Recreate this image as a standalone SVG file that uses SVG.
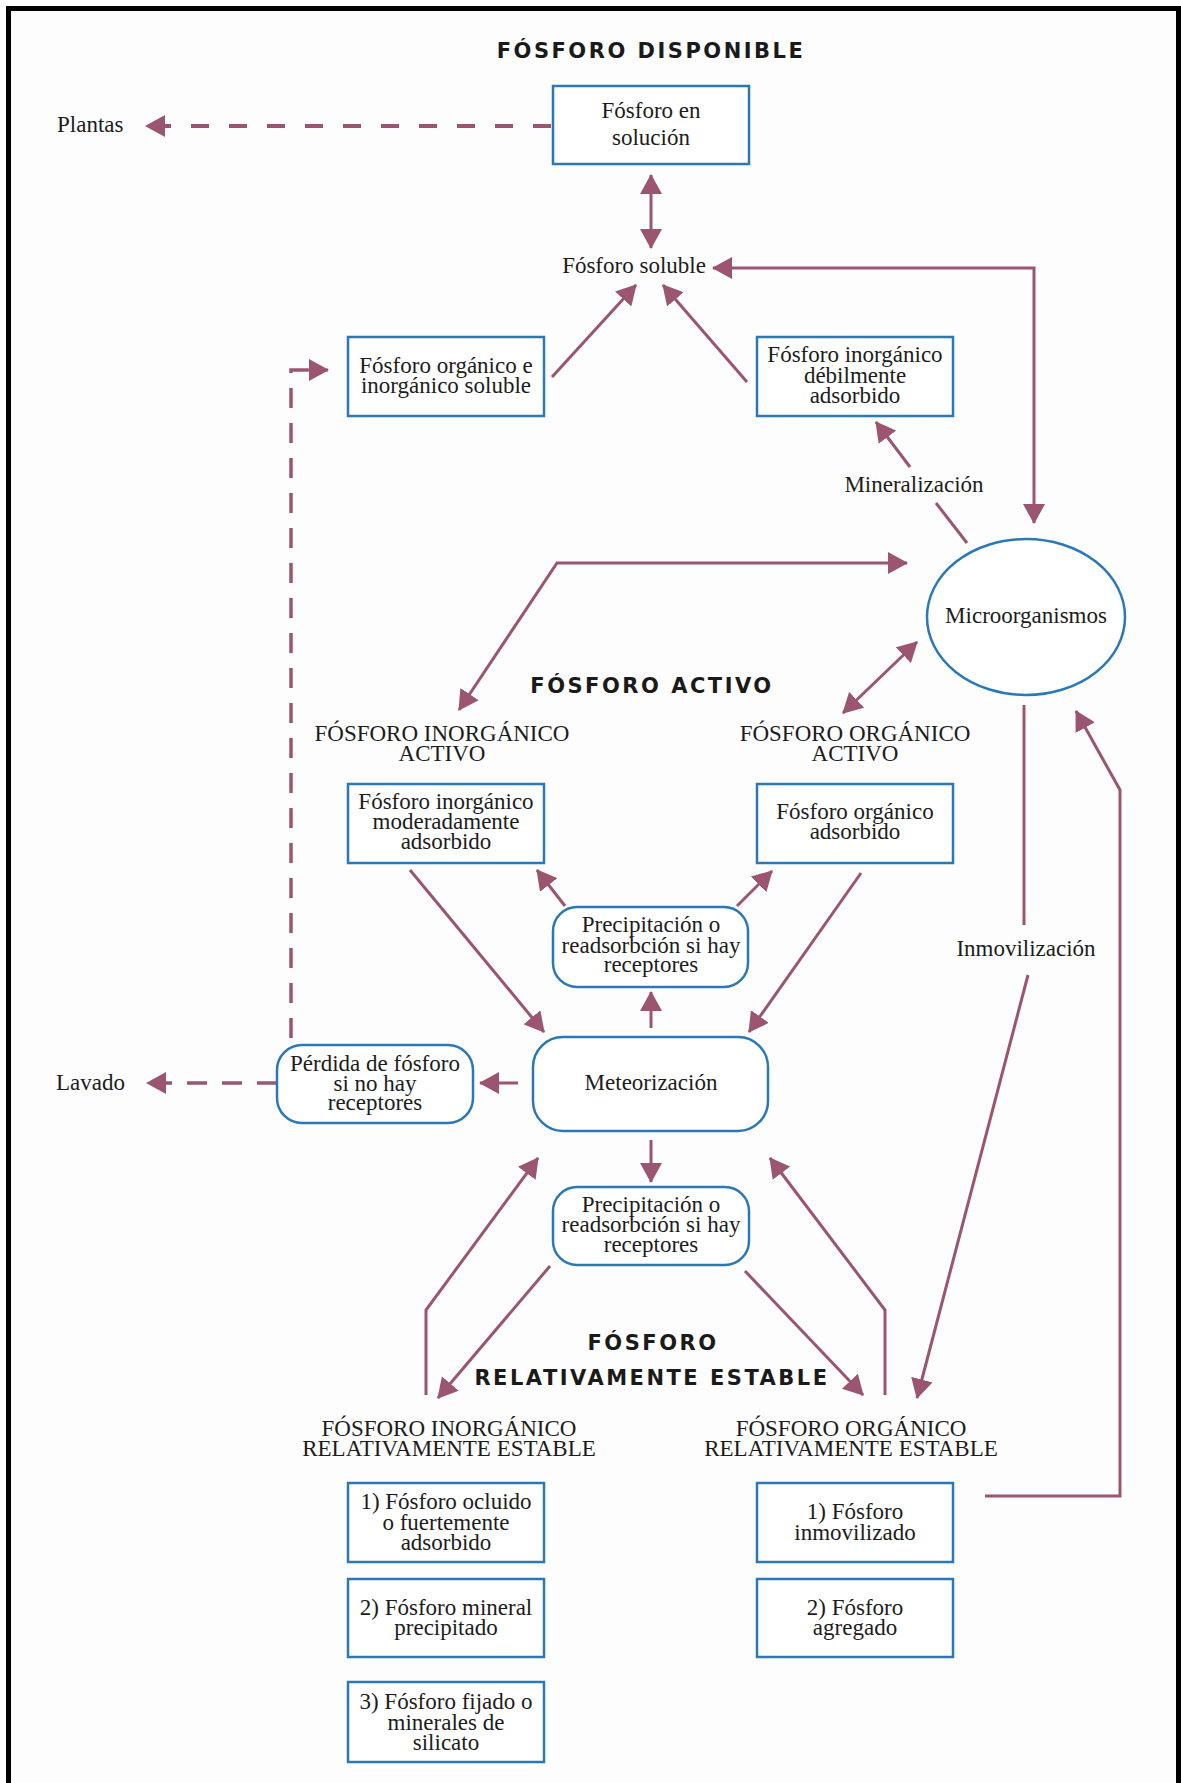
<svg xmlns="http://www.w3.org/2000/svg" width="1181" height="1783" viewBox="0 0 1181 1783">
<style>
.t{font-family:"Liberation Serif","Times New Roman",serif;font-size:23px;fill:#1c1c1c;text-anchor:middle}
.ts{font-family:"Liberation Serif","Times New Roman",serif;font-size:23px;fill:#1c1c1c}
.h{font-family:"DejaVu Sans",sans-serif;font-weight:bold;font-size:21px;letter-spacing:2.5px;fill:#1a1a1a;text-anchor:middle}
.box{fill:#ffffff;stroke:#2b78b8;stroke-width:2.5}
.c{fill:none;stroke:#9b5570;stroke-width:3}
.d1{fill:none;stroke:#9b5570;stroke-width:4;stroke-dasharray:18 20}
.d2{fill:none;stroke:#9b5570;stroke-width:3.5;stroke-dasharray:20 15}
.a{marker-end:url(#ah)}
.b{marker-start:url(#ah);marker-end:url(#ah)}
</style>
<defs>
<marker id="ah" viewBox="0 0 20 22" refX="19" refY="11" markerWidth="20" markerHeight="22" markerUnits="userSpaceOnUse" orient="auto-start-reverse">
<path d="M0,0 L20,11 L0,22 Z" fill="#9b5570"/>
</marker>
</defs>
<rect width="1181" height="1783" fill="#fdfdfd"/>
<path d="M8.5,1783 V8.5 H1178.5 V1783" fill="none" stroke="#000" stroke-width="5"/>

<g id="titles">
<text class="h" x="651" y="58">FÓSFORO DISPONIBLE</text>
<text class="h" x="652" y="693">FÓSFORO ACTIVO</text>
<text class="h" x="653" y="1350">FÓSFORO</text>
<text class="h" x="652" y="1385">RELATIVAMENTE ESTABLE</text>
</g>

<g id="connectors">
<line class="d1 a" x1="551" y1="126" x2="146" y2="126"/>
<line class="c b" x1="651" y1="175" x2="651" y2="248"/>
<path class="c b" d="M713,268 H1034 V523"/>
<line class="c a" x1="552" y1="377" x2="636" y2="285"/>
<line class="c a" x1="747" y1="382" x2="663" y2="285"/>
<line class="c a" x1="910" y1="467" x2="876" y2="422"/>
<line class="c" x1="936" y1="503" x2="967" y2="543"/>
<path class="d2" d="M291,1038 V370 H312"/>
<line class="c a" x1="308" y1="370" x2="328" y2="370"/>
<line class="d2 a" x1="277" y1="1083" x2="147" y2="1083"/>
<line class="c a" x1="518" y1="1083" x2="480" y2="1083"/>
<path class="c b" d="M459,710 L557,563 H907"/>
<line class="c b" x1="917" y1="642" x2="843" y2="713"/>
<line class="c a" x1="410" y1="870" x2="544" y2="1032"/>
<line class="c a" x1="861" y1="873" x2="749" y2="1032"/>
<line class="c a" x1="565" y1="906" x2="537" y2="870"/>
<line class="c a" x1="737" y1="906" x2="772" y2="871"/>
<line class="c a" x1="651" y1="1028" x2="651" y2="992"/>
<line class="c a" x1="651" y1="1140" x2="651" y2="1182"/>
<path class="c a" d="M426,1395 V1310 L538,1158"/>
<path class="c a" d="M885,1395 V1310 L770,1158"/>
<line class="c a" x1="550" y1="1266" x2="438" y2="1398"/>
<line class="c a" x1="745" y1="1271" x2="863" y2="1395"/>
<line class="c" x1="1024" y1="705" x2="1024" y2="925"/>
<line class="c a" x1="1028" y1="975" x2="917" y2="1398"/>
<path class="c a" d="M985,1496 H1120 V790 L1076,711"/>
</g>

<g id="labels">
<text class="ts" x="57" y="132">Plantas</text>
<text class="ts" x="56" y="1090">Lavado</text>
<text class="t" x="634" y="273">Fósforo soluble</text>
<text class="t" x="914" y="492">Mineralización</text>
<text class="t" x="1026" y="956">Inmovilización</text>
<text class="t" x="442" y="741">FÓSFORO INORGÁNICO</text>
<text class="t" x="442" y="761">ACTIVO</text>
<text class="t" x="855" y="741">FÓSFORO ORGÁNICO</text>
<text class="t" x="855" y="761">ACTIVO</text>
<text class="t" x="449" y="1436">FÓSFORO INORGÁNICO</text>
<text class="t" x="449" y="1456">RELATIVAMENTE ESTABLE</text>
<text class="t" x="851" y="1436">FÓSFORO ORGÁNICO</text>
<text class="t" x="851" y="1456">RELATIVAMENTE ESTABLE</text>
</g>

<g id="n-solucion">
<rect class="box" x="553" y="86" width="196" height="78"/>
<text class="t" x="651" y="118">Fósforo en</text>
<text class="t" x="651" y="145">solución</text>
</g>
<g id="n-soluble">
<rect class="box" x="348" y="337" width="196" height="79"/>
<text class="t" x="446" y="373">Fósforo orgánico e</text>
<text class="t" x="446" y="393">inorgánico soluble</text>
</g>
<g id="n-debil">
<rect class="box" x="757" y="337" width="196" height="79"/>
<text class="t" x="855" y="362">Fósforo inorgánico</text>
<text class="t" x="855" y="383">débilmente</text>
<text class="t" x="855" y="403">adsorbido</text>
</g>
<g id="n-micro">
<ellipse cx="1026" cy="617" rx="99" ry="78" fill="#fff" stroke="#2b78b8" stroke-width="2.5"/>
<text class="t" x="1026" y="623">Microorganismos</text>
</g>
<g id="n-moderado">
<rect class="box" x="348" y="784" width="196" height="79"/>
<text class="t" x="446" y="809">Fósforo inorgánico</text>
<text class="t" x="446" y="829">moderadamente</text>
<text class="t" x="446" y="849">adsorbido</text>
</g>
<g id="n-organico">
<rect class="box" x="757" y="784" width="196" height="79"/>
<text class="t" x="855" y="819">Fósforo orgánico</text>
<text class="t" x="855" y="839">adsorbido</text>
</g>
<g id="n-precip1">
<rect class="box" x="553" y="907" width="195" height="80" rx="24"/>
<text class="t" x="651" y="932">Precipitación o</text>
<text class="t" x="651" y="953">readsorbción si hay</text>
<text class="t" x="651" y="972">receptores</text>
</g>
<g id="n-meteo">
<rect class="box" x="533" y="1037" width="235" height="94" rx="30"/>
<text class="t" x="651" y="1090">Meteorización</text>
</g>
<g id="n-perdida">
<rect class="box" x="277" y="1045" width="196" height="78" rx="25"/>
<text class="t" x="375" y="1071">Pérdida de fósforo</text>
<text class="t" x="375" y="1091">si no hay</text>
<text class="t" x="375" y="1110">receptores</text>
</g>
<g id="n-precip2">
<rect class="box" x="553" y="1187" width="196" height="78" rx="24"/>
<text class="t" x="651" y="1212">Precipitación o</text>
<text class="t" x="651" y="1232">readsorbción si hay</text>
<text class="t" x="651" y="1252">receptores</text>
</g>
<g id="n-ocluido">
<rect class="box" x="348" y="1483" width="196" height="79"/>
<text class="t" x="446" y="1509">1) Fósforo ocluido</text>
<text class="t" x="446" y="1530">o fuertemente</text>
<text class="t" x="446" y="1550">adsorbido</text>
</g>
<g id="n-mineral">
<rect class="box" x="348" y="1579" width="196" height="78"/>
<text class="t" x="446" y="1615">2) Fósforo mineral</text>
<text class="t" x="446" y="1635">precipitado</text>
</g>
<g id="n-fijado">
<rect class="box" x="348" y="1682" width="196" height="80"/>
<text class="t" x="446" y="1709">3) Fósforo fijado o</text>
<text class="t" x="446" y="1730">minerales de</text>
<text class="t" x="446" y="1750">silicato</text>
</g>
<g id="n-inmov">
<rect class="box" x="757" y="1483" width="196" height="79"/>
<text class="t" x="855" y="1519">1) Fósforo</text>
<text class="t" x="855" y="1540">inmovilizado</text>
</g>
<g id="n-agregado">
<rect class="box" x="757" y="1579" width="196" height="78"/>
<text class="t" x="855" y="1615">2) Fósforo</text>
<text class="t" x="855" y="1635">agregado</text>
</g>
</svg>
